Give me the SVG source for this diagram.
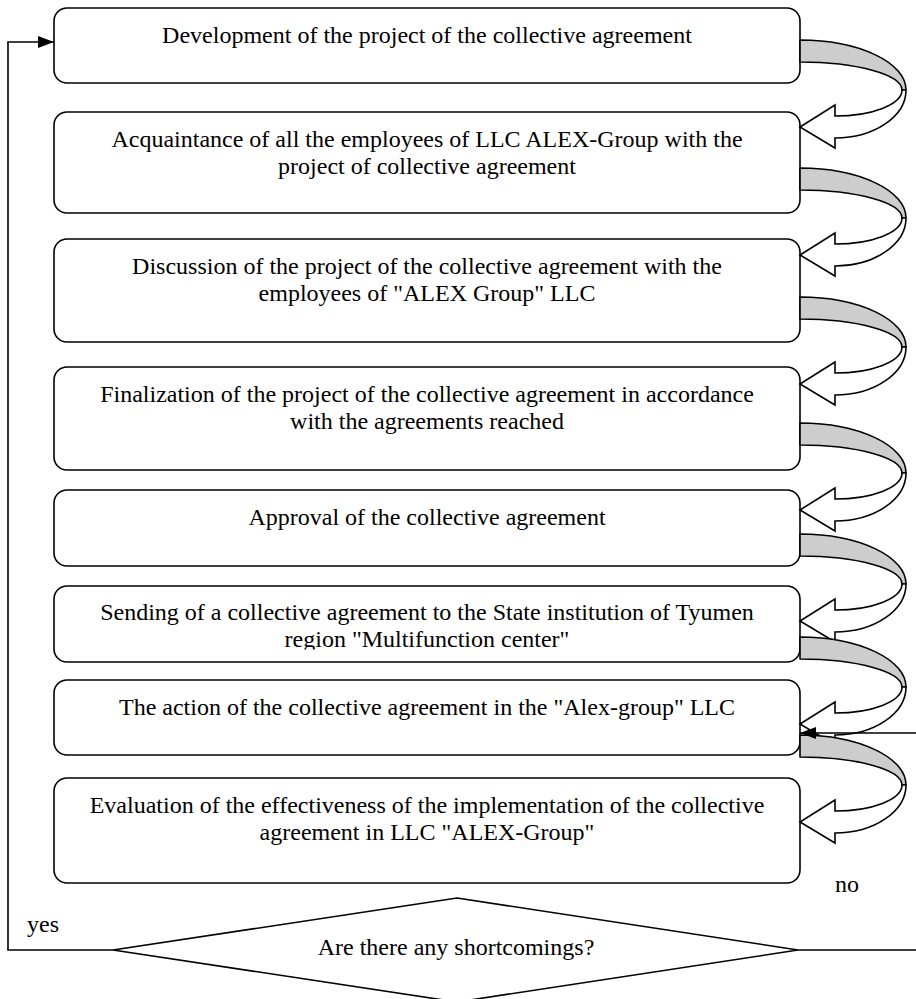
<svg xmlns="http://www.w3.org/2000/svg" width="916" height="999" viewBox="0 0 916 999">
<style>
.box{fill:#fff;stroke:#000;stroke-width:1.6}
.t{font-family:"Liberation Serif","Times New Roman",serif;font-size:24px;fill:#000}
.c{text-anchor:middle}
.band{fill:#cdcdcd;stroke:#000;stroke-width:1.6;stroke-linejoin:round}
.head{fill:#fff;stroke:#000;stroke-width:1.6;stroke-linejoin:miter}
.ln{fill:none;stroke:#000;stroke-width:1.6}
</style>
<defs>
<marker id="ah" markerWidth="16" markerHeight="12" refX="16" refY="6" orient="auto" markerUnits="userSpaceOnUse">
<path d="M0,0 L16,6 L0,12 Z" fill="#000"/>
</marker>
<g id="curl">
<path class="band" d="M800,40 A106,50 0 0 1 906,90 L902,90 A102,28 0 0 0 800,62 Z"/>
<path class="head" d="M906,90 A71,48 0 0 1 835,138 L835,148 L800,127 L835,105 L835,116 A67,26 0 0 0 902,90 Z"/>
</g>
<clipPath id="clip6"><rect x="0" y="580" width="916" height="69.5"/></clipPath>
</defs>

<g id="n1">
<rect class="box" x="54" y="8" width="746" height="75" rx="13"/>
<text class="t c" x="427" y="43">Development of the project of the collective agreement</text>
</g>
<g id="n2">
<rect class="box" x="54" y="112" width="746" height="101" rx="13"/>
<text class="t c" x="427" y="147">Acquaintance of all the employees of LLC ALEX-Group with the</text>
<text class="t c" x="427" y="174">project of collective agreement</text>
</g>
<g id="n3">
<rect class="box" x="54" y="239" width="746" height="103" rx="13"/>
<text class="t c" x="427" y="274">Discussion of the project of the collective agreement with the</text>
<text class="t c" x="427" y="301">employees of "ALEX Group" LLC</text>
</g>
<g id="n4">
<rect class="box" x="54" y="367" width="746" height="103" rx="13"/>
<text class="t c" x="427" y="402">Finalization of the project of the collective agreement in accordance</text>
<text class="t c" x="427" y="429">with the agreements reached</text>
</g>
<g id="n5">
<rect class="box" x="54" y="490" width="746" height="76" rx="13"/>
<text class="t c" x="427" y="525">Approval of the collective agreement</text>
</g>
<g id="n6">
<rect class="box" x="54" y="586" width="746" height="76" rx="13"/>
<g clip-path="url(#clip6)">
<text class="t c" x="427" y="620">Sending of a collective agreement to the State institution of Tyumen</text>
<text class="t c" x="427" y="647">region "Multifunction center"</text>
</g>
</g>
<g id="n7">
<rect class="box" x="54" y="680" width="746" height="75" rx="13"/>
<text class="t c" x="427" y="715">The action of the collective agreement in the "Alex-group" LLC</text>
</g>
<g id="n8">
<rect class="box" x="54" y="778" width="746" height="105" rx="13"/>
<text class="t c" x="427" y="813">Evaluation of the effectiveness of the implementation of the collective</text>
<text class="t c" x="427" y="840">agreement in LLC "ALEX-Group"</text>
</g>
<g id="n9">
<polygon class="box" points="457,898 798,950 457,1002 113,950"/>
<text class="t c" x="456" y="955">Are there any shortcomings?</text>
</g>

<g id="connectors">
<use href="#curl"/>
<use href="#curl" transform="translate(0,128)"/>
<use href="#curl" transform="translate(0,257)"/>
<use href="#curl" transform="translate(0,383)"/>
<use href="#curl" transform="translate(0,494)"/>
<use href="#curl" transform="translate(0,597)"/>
<use href="#curl" transform="translate(0,695)"/>
<polyline class="ln" points="113,950 8,950 8,42 54,42" marker-end="url(#ah)"/>
<polyline class="ln" points="798,950 918,950 918,733 800,733" marker-end="url(#ah)"/>
<text class="t" x="27" y="932">yes</text>
<text class="t" x="835" y="892">no</text>
</g>
</svg>
